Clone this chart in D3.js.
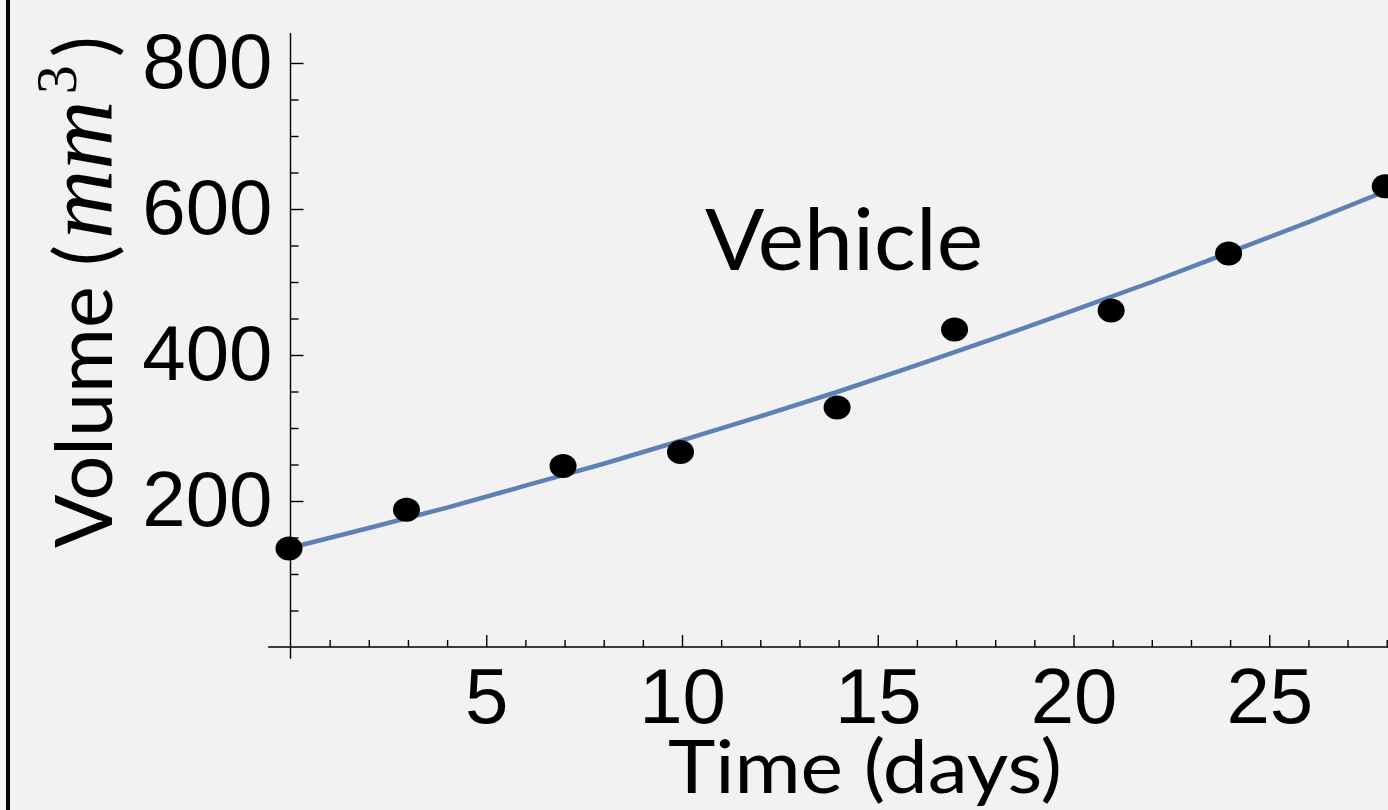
<!DOCTYPE html>
<html>
<head>
<meta charset="utf-8">
<script src="https://cdn.jsdelivr.net/npm/d3@7"></script>
<style>
  body { margin: 0; background: #f2f2f2; overflow: hidden; }
  svg { display: block; }
  .tick text { font-family: 'Liberation Sans', Arial, sans-serif; font-size: 78px; fill: #000; }
  .tick line { stroke: #000; stroke-width: 1.4; }
  .lbl { font-family: Lato, 'Open Sans', sans-serif; fill: #000; }
</style>
</head>
<body>
<script>

// measured tumour volumes (Vehicle group)
const days = [0, 3, 7, 10, 14, 17, 21, 24, 28]
const volumes = [135, 188, 248, 267, 328, 435, 461, 539, 631]

// fitted curve
const curveDays = [0, 2, 4, 6, 8, 10, 12, 14, 16, 18, 20, 22, 24, 26, 28, 28.5]
const curveVolumes = [136, 163, 191, 221, 251, 283, 316, 350, 386, 423, 461, 500, 541, 582, 625, 636]

const xMajor = [5, 10, 15, 20, 25]
const yMajor = [200, 400, 600, 800]

const WIDTH = 1388
const HEIGHT = 810

const svg = d3.select('body')
  .append('svg')
  .attr('width', WIDTH)
  .attr('height', HEIGHT)

svg.append('rect')
  .attr('width', WIDTH)
  .attr('height', HEIGHT)
  .attr('fill', '#f2f2f2')

// black frame edge on the left
svg.append('line')
  .attr('x1', 8).attr('x2', 8)
  .attr('y1', 0).attr('y2', HEIGHT)
  .attr('stroke', '#000')
  .attr('stroke-width', 4)

const xScale = d3.scaleLinear()
  .domain([0, 28])
  .range([290.5, 290.5 + 28 * 39.15])

const yScale = d3.scaleLinear()
  .domain([0, 800])
  .range([647, 63])

const ox = xScale(0)
const oy = yScale(0)

const xMinor = d3.range(1, 31).filter(d => d % 5 != 0)
const yMinor = d3.range(50, 801, 50).filter(d => d % 200 != 0)

// minor ticks
svg.append('g')
  .attr('transform', 'translate(0,' + oy + ')')
  .call(d3.axisBottom(xScale).tickValues(xMinor).tickSizeInner(-7).tickSizeOuter(0).tickFormat(''))
  .call(g => g.select('.domain').remove())

svg.append('g')
  .attr('transform', 'translate(' + ox + ',0)')
  .call(d3.axisLeft(yScale).tickValues(yMinor).tickSizeInner(-8).tickSizeOuter(0).tickFormat(''))
  .call(g => g.select('.domain').remove())

// major ticks + labels
svg.append('g')
  .attr('id', 'x-axis')
  .attr('transform', 'translate(0,' + oy + ')')
  .call(d3.axisBottom(xScale).tickValues(xMajor).tickSizeInner(-12).tickSizeOuter(0).tickPadding(21))
  .call(g => g.select('.domain').remove())

svg.append('g')
  .attr('id', 'y-axis')
  .attr('transform', 'translate(' + ox + ',0)')
  .call(d3.axisLeft(yScale).tickValues(yMajor).tickSizeInner(-13).tickSizeOuter(0).tickPadding(18))
  .call(g => g.select('.domain').remove())

// axis lines, crossing past the origin
svg.append('line')
  .attr('x1', xScale(-0.57)).attr('x2', WIDTH + 10)
  .attr('y1', oy).attr('y2', oy)
  .attr('stroke', '#000').attr('stroke-width', 1.4)

svg.append('line')
  .attr('x1', ox).attr('x2', ox)
  .attr('y1', yScale(-16)).attr('y2', yScale(841))
  .attr('stroke', '#000').attr('stroke-width', 1.4)

// fit curve
const line = d3.line()
  .x((d, i) => xScale(curveDays[i]))
  .y(d => yScale(d))
  .curve(d3.curveMonotoneX)

svg.append('path')
  .datum(curveVolumes)
  .attr('d', line)
  .attr('fill', 'none')
  .attr('stroke', '#5e81b5')
  .attr('stroke-width', 4.5)

// data points
svg.selectAll('ellipse')
  .data(volumes)
  .enter()
  .append('ellipse')
  .attr('cx', (d, i) => xScale(days[i]) - 1.5)
  .attr('cy', d => yScale(d))
  .attr('rx', 13.5)
  .attr('ry', 12)
  .attr('fill', '#000')

// labels
svg.append('text')
  .attr('class', 'lbl')
  .attr('x', 705)
  .attr('y', 270)
  .attr('font-size', 86)
  .attr('textLength', 278)
  .attr('lengthAdjust', 'spacingAndGlyphs')
  .text('Vehicle')

svg.append('text')
  .attr('class', 'lbl')
  .attr('x', 668)
  .attr('y', 793)
  .attr('font-size', 74)
  .attr('textLength', 394)
  .attr('lengthAdjust', 'spacingAndGlyphs')
  .text('Time (days)')

const ylab = svg.append('text')
  .attr('class', 'lbl')
  .attr('transform', 'translate(112,548) rotate(-90)')
  .attr('font-size', 79)

ylab.append('tspan').text('Volume (')
ylab.append('tspan')
  .attr('font-family', "'Liberation Serif', 'DejaVu Serif', serif")
  .attr('font-style', 'italic')
  .attr('font-size', 96)
  .attr('dx', 6)
  .text('mm')
ylab.append('tspan')
  .attr('font-family', "'Liberation Serif', 'DejaVu Serif', serif")
  .attr('font-size', 58)
  .attr('dy', -36)
  .attr('dx', 6)
  .text('3')
ylab.append('tspan')
  .attr('dy', 36)
  .attr('dx', 8)
  .text(')')

</script>
</body>
</html>
